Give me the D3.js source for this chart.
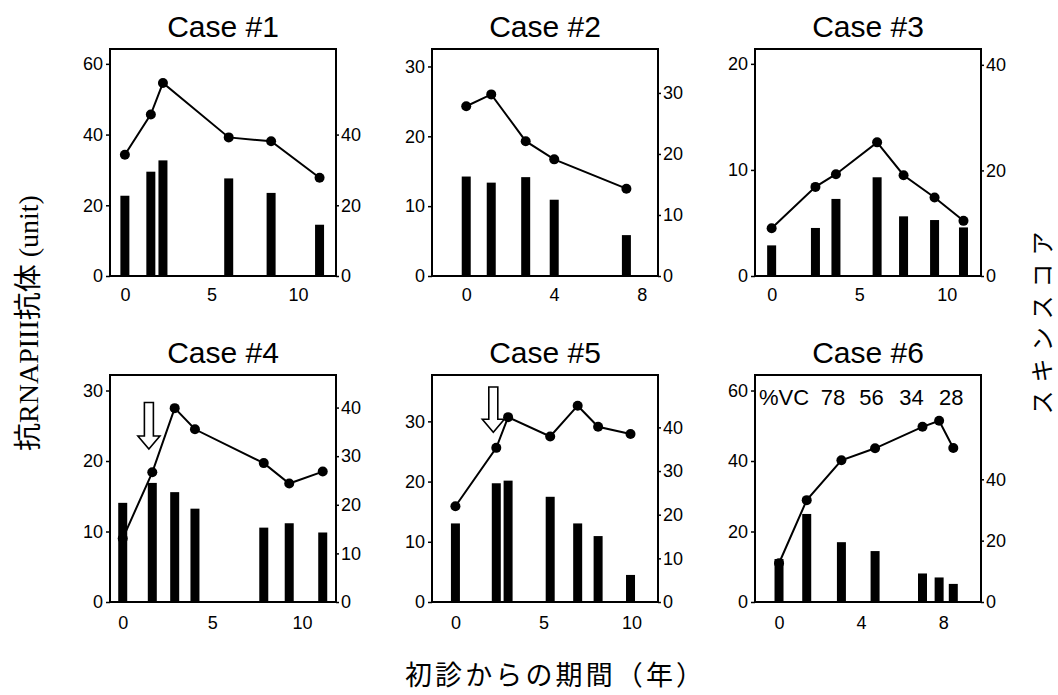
<!DOCTYPE html>
<html>
<head>
<meta charset="utf-8">
<script src="https://cdn.jsdelivr.net/npm/d3@7"></script>
<style>
  body { margin: 0; background: #fff; }
  text { font-family: "Liberation Sans", Arial, sans-serif; fill: #000; }
</style>
</head>
<body>
<script>
// values, one entry per case
var caseTitles = ["Case #1", "Case #2", "Case #3", "Case #4", "Case #5", "Case #6"];

// years since first visit
var caseYears = [
    [0, 1.5, 2.2, 6.0, 8.45, 11.25],
    [0, 1.14, 2.71, 4.01, 7.3],
    [0, 2.5, 3.67, 6.02, 7.53, 9.3, 10.95],
    [0, 1.65, 2.9, 4.03, 7.87, 9.29, 11.16],
    [0, 2.32, 2.99, 5.38, 6.94, 8.1, 9.94],
    [0, 1.35, 3.04, 4.68, 6.99, 7.8, 8.49]
];
// anti-RNAP III antibody (unit), left axis, line
var caseAntibody = [
    [34.3, 45.7, 54.6, 39.2, 38.1, 27.8],
    [24.3, 26.0, 19.3, 16.7, 12.5],
    [4.5, 8.4, 9.6, 12.6, 9.5, 7.4, 5.2],
    [9.0, 18.4, 27.5, 24.5, 19.7, 16.8, 18.5],
    [15.9, 25.6, 30.7, 27.5, 32.6, 29.1, 27.9],
    [11.0, 28.9, 40.2, 43.6, 49.7, 51.4, 43.7]
];
// skin score, right axis, bars
var caseSkin = [
    [22.7, 29.5, 32.7, 27.6, 23.5, 14.5],
    [16.3, 15.3, 16.2, 12.5, 6.7],
    [5.8, 9.1, 14.6, 18.7, 11.3, 10.6, 9.2],
    [20.4, 24.5, 22.6, 19.2, 15.3, 16.2, 14.3],
    [18.0, 27.2, 27.8, 24.1, 18.0, 15.1, 6.2],
    [14.0, 28.7, 19.5, 16.6, 9.3, 8.0, 5.9]
];

// axis extents and tick labels
var xDomains = [[-0.86, 12.2], [-1.56, 8.74], [-0.95, 11.95], [-0.71, 11.9], [-1.33, 11.5], [-1.17, 9.84]];
var leftMax = [64.2, 32.5, 21.4, 32.2, 37.7, 64.4];
var rightMax = [64.2, 37.2, 43, 46.7, 52, 74];
var xTicks = [[0, 5, 10], [0, 4, 8], [0, 5, 10], [0, 5, 10], [0, 5, 10], [0, 4, 8]];
var leftTicks = [[0, 20, 40, 60], [0, 10, 20, 30], [0, 10, 20], [0, 10, 20, 30], [0, 10, 20, 30], [0, 20, 40, 60]];
var rightTicks = [[0, 20, 40], [0, 10, 20, 30], [0, 20, 40], [0, 10, 20, 30, 40], [0, 10, 20, 30, 40], [0, 20, 40]];

// treatment arrows (case index, year, top, tip on left axis)
var arrowCase = [3, 4];
var arrowYear = [1.46, 2.15];
var arrowTop = [28.3, 35.7];
var arrowTip = [21.7, 28.2];

// %VC annotation in case #6
var vcLabels = ["78", "56", "34", "28"];
var vcYears = [2.63, 4.51, 6.45, 8.39];

var width = 1058, height = 695;
var colLeft = [110, 432, 755];
var rowTop = [49, 375];
var pw = 226, ph = 227;

var svg = d3.select("body").append("svg")
    .attr("width", width)
    .attr("height", height);

caseTitles.forEach(function (title, i) {
    var g = svg.append("g")
        .attr("transform", "translate(" + colLeft[i % 3] + "," + rowTop[Math.floor(i / 3)] + ")");

    var x = d3.scaleLinear().domain(xDomains[i]).range([0, pw]);
    var yL = d3.scaleLinear().domain([0, leftMax[i]]).range([ph, 0]);
    var yR = d3.scaleLinear().domain([0, rightMax[i]]).range([ph, 0]);

    var years = caseYears[i];

    // bars
    g.selectAll("rect.bar")
        .data(caseSkin[i])
        .enter()
        .append("rect")
        .attr("class", "bar")
        .attr("x", function (d, j) { return x(years[j]) - 4.5; })
        .attr("y", function (d) { return yR(d); })
        .attr("width", 9)
        .attr("height", function (d) { return ph - yR(d); })
        .attr("fill", "#000");

    // line + points
    var line = d3.line()
        .x(function (d, j) { return x(years[j]); })
        .y(function (d) { return yL(d); });

    g.append("path")
        .datum(caseAntibody[i])
        .attr("d", line)
        .attr("fill", "none")
        .attr("stroke", "#000")
        .attr("stroke-width", 2);

    g.selectAll("circle")
        .data(caseAntibody[i])
        .enter()
        .append("circle")
        .attr("cx", function (d, j) { return x(years[j]); })
        .attr("cy", function (d) { return yL(d); })
        .attr("r", 5)
        .attr("fill", "#000");

    // frame
    g.append("rect")
        .attr("width", pw)
        .attr("height", ph)
        .attr("fill", "none")
        .attr("stroke", "#000")
        .attr("stroke-width", 2);

    var axL = g.append("g")
        .call(d3.axisLeft(yL).tickValues(leftTicks[i]).tickSize(4).tickPadding(3));
    var axR = g.append("g")
        .attr("transform", "translate(" + pw + ",0)")
        .call(d3.axisRight(yR).tickValues(rightTicks[i]).tickSize(3).tickPadding(2));
    var axB = g.append("g")
        .attr("transform", "translate(0," + ph + ")")
        .call(d3.axisBottom(x).tickValues(xTicks[i]).tickSize(0).tickPadding(i < 3 ? 12 : 14));

    [axL, axR, axB].forEach(function (ax) {
        ax.select(".domain").remove();
        ax.selectAll("text")
            .style("font-family", "'Liberation Sans', Arial, sans-serif")
            .style("font-size", "18px")
            .attr("fill", "#000");
        ax.selectAll("line").attr("stroke", "#000").attr("stroke-width", 1.5);
    });

    g.append("text")
        .attr("x", pw / 2)
        .attr("y", -12)
        .attr("text-anchor", "middle")
        .style("font-size", "30px")
        .text(title);

    // arrows
    arrowCase.forEach(function (c, k) {
        if (c != i) return;
        var cx = x(arrowYear[k]), top = yL(arrowTop[k]), tip = yL(arrowTip[k]);
        var pts = [[cx - 4.5, top], [cx + 4.5, top], [cx + 4.5, tip - 13], [cx + 11, tip - 13],
                   [cx, tip], [cx - 11, tip - 13], [cx - 4.5, tip - 13]];
        g.append("path")
            .attr("d", "M" + pts.join("L") + "Z")
            .attr("fill", "#fff")
            .attr("stroke", "#000")
            .attr("stroke-width", 1.6);
    });

    if (i == 5) {
        g.append("text")
            .attr("x", 4)
            .attr("y", 30)
            .style("font-size", "22px")
            .text("%VC");
        g.selectAll("text.vc")
            .data(vcLabels)
            .enter()
            .append("text")
            .attr("class", "vc")
            .attr("x", function (d, j) { return x(vcYears[j]); })
            .attr("y", 30)
            .attr("text-anchor", "middle")
            .style("font-size", "22px")
            .text(function (d) { return d; });
    }
});

// axis titles
svg.append("text")
    .attr("transform", "translate(38,323) rotate(-90)")
    .attr("text-anchor", "middle")
    .style("font-family", "'Liberation Serif', 'Noto Sans CJK JP', serif")
    .style("font-size", "28px")
    .text("抗RNAPIII抗体 (unit)");

svg.append("text")
    .attr("transform", "translate(1051,323) rotate(-90)")
    .attr("text-anchor", "middle")
    .attr("textLength", 183)
    .attr("lengthAdjust", "spacing")
    .style("font-family", "'Noto Sans CJK JP', sans-serif")
    .style("font-size", "24px")
    .text("スキンスコア");

svg.append("text")
    .attr("x", 554)
    .attr("y", 685)
    .attr("text-anchor", "middle")
    .attr("textLength", 298)
    .attr("lengthAdjust", "spacing")
    .style("font-family", "'Noto Sans CJK JP', sans-serif")
    .style("font-size", "27px")
    .text("初診からの期間（年）");
</script>
</body>
</html>
